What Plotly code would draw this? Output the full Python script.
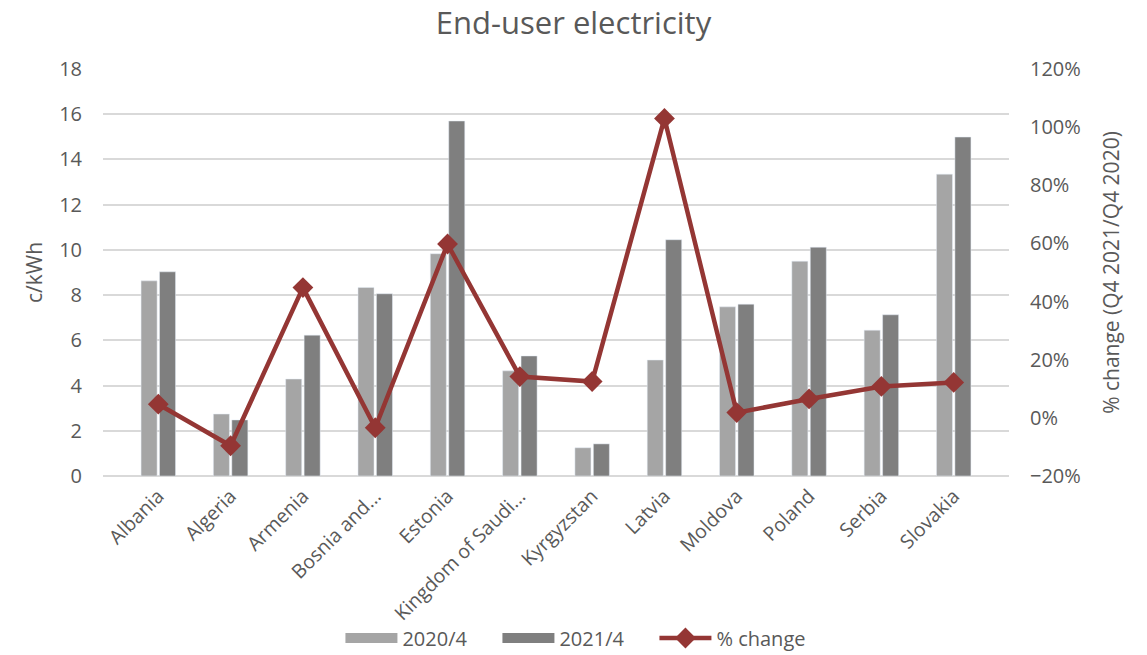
import plotly.graph_objects as go

categories = ["Albania", "Algeria", "Armenia", "Bosnia and...", "Estonia", "Kingdom of Saudi...",
              "Kyrgyzstan", "Latvia", "Moldova", "Poland", "Serbia", "Slovakia"]
v2020 = [8.63, 2.74, 4.29, 8.34, 9.83, 4.65, 1.25, 5.13, 7.48, 9.50, 6.45, 13.35]
v2021 = [9.03, 2.48, 6.23, 8.06, 15.70, 5.31, 1.42, 10.45, 7.60, 10.12, 7.13, 14.99]
pct_change = [4.7, -9.6, 44.8, -3.4, 59.8, 14.2, 12.5, 103.0, 1.8, 6.5, 10.8, 12.2]

FONT = "Open Sans"
TXT = "#595959"
C20 = "#A5A5A5"
C21 = "#7F7F7F"
CL = "#943634"

fig = go.Figure()
fig.add_trace(go.Bar(x=categories, y=v2020, name="2020/4", marker_color=C20, showlegend=False))
fig.add_trace(go.Bar(x=categories, y=v2021, name="2021/4", marker_color=C21, showlegend=False))
# legend swatches drawn as wide rectangles like the original
fig.add_trace(go.Scatter(x=[None], y=[None], mode="lines", name="2020/4",
                         line=dict(color=C20, width=13)))
fig.add_trace(go.Scatter(x=[None], y=[None], mode="lines", name="2021/4",
                         line=dict(color=C21, width=13)))
fig.add_trace(go.Scatter(x=categories, y=pct_change, name="% change", yaxis="y2",
                         mode="lines+markers",
                         line=dict(color=CL, width=4.5),
                         marker=dict(symbol="diamond", size=16, color=CL)))

fig.update_layout(
    width=1147, height=655,
    paper_bgcolor="white", plot_bgcolor="white",
    font=dict(family=FONT, color=TXT, size=20),
    title=dict(text="End-user electricity", x=0.5, xanchor="center", y=0.965, yanchor="middle",
               font=dict(size=31, color=TXT, family=FONT)),
    margin=dict(l=103, r=138, t=69, b=179, autoexpand=False),
    barmode="group", bargap=0.49, bargroupgap=0.13,
    xaxis=dict(tickangle=-45, showgrid=False, showline=False, ticks="",
               tickfont=dict(size=19.5, color=TXT), automargin=False, ticklabelstandoff=4),
    yaxis=dict(range=[0, 18], dtick=2, showgrid=True, gridcolor="#D9D9D9", gridwidth=1.5,
               zeroline=True, zerolinecolor="#D9D9D9", zerolinewidth=1.5,
               title=dict(text="c/kWh", font=dict(size=21, color=TXT), standoff=10),
               tickfont=dict(size=20, color=TXT), ticks="", automargin=False,
               ticklabelstandoff=20),
    yaxis2=dict(range=[-20, 120], dtick=20, overlaying="y", side="right", showgrid=False,
                zeroline=False, ticksuffix="%",
                title=dict(text="% change (Q4 2021/Q4 2020)", font=dict(size=21, color=TXT), standoff=24),
                tickfont=dict(size=20, color=TXT), ticks="", automargin=False,
                ticklabelstandoff=20),
    legend=dict(orientation="h", x=0.522, xanchor="center", y=-0.398, yanchor="middle",
                font=dict(size=20, color=TXT), traceorder="normal",
                bgcolor="rgba(0,0,0,0)", itemwidth=52,
                entrywidth=90, entrywidthmode="pixels"),
)

fig.write_html("out.html")
